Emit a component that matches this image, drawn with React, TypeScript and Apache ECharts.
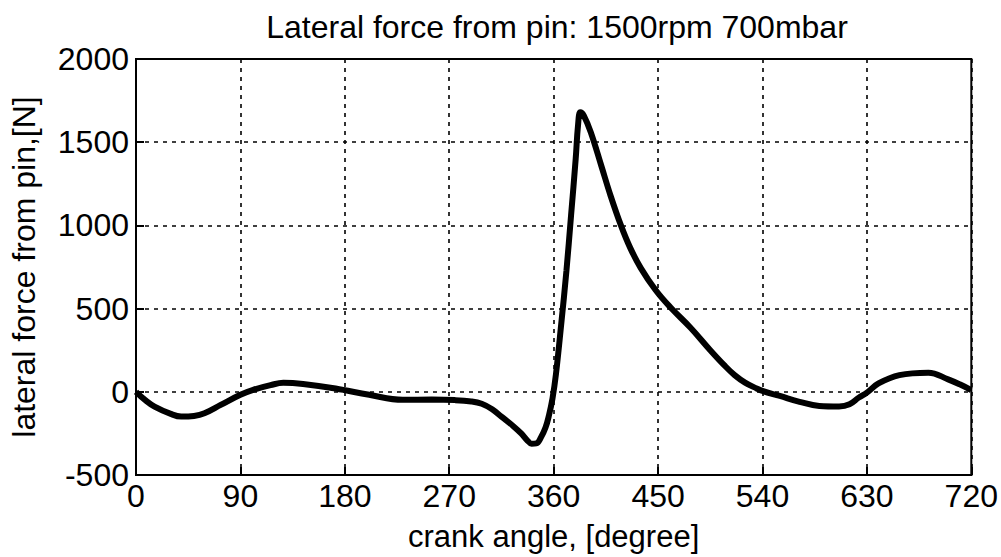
import React, { useEffect, useRef } from "react";
import * as echarts from "echarts";

const angles = [0, 8, 16, 30, 39, 50, 59, 73, 90, 101, 116, 127, 144, 172, 201, 230, 255, 275, 289, 298, 307, 315, 325, 332, 337, 341, 345, 349, 353, 356, 359, 362, 366.5, 371, 375, 379, 381, 383, 386, 392, 401, 409, 418, 426, 435, 448, 461, 478, 495, 507, 516, 525, 535, 540, 555, 572, 589, 606, 615, 623, 630, 640, 658, 683, 700, 710, 720];
const forces = [0, -50, -89, -133, -149, -145, -129, -79, -18, 12, 40, 54, 47, 20, -18, -48, -47, -50, -58, -72, -105, -149, -205, -250, -290, -312, -310, -275, -215, -140, -40, 107, 405, 726, 1060, 1400, 1600, 1680, 1660, 1560, 1360, 1180, 1000, 865, 745, 610, 505, 385, 250, 160, 100, 55, 20, 5, -25, -60, -85, -88, -75, -35, -5, 50, 100, 115, 75, 45, 10];
const xTicks = [0, 90, 180, 270, 360, 450, 540, 630, 720];
const yTicks = [-500, 0, 500, 1000, 1500, 2000];

const titleText = "Lateral force from pin: 1500rpm 700mbar";
const xLabel = "crank angle, [degree]";
const yLabel = "lateral force from pin,[N]";

export default function App() {
  const ref = useRef<HTMLDivElement>(null);
  useEffect(() => {
    document.body.style.margin = "0";
    const chart = echarts.init(ref.current!, null, { renderer: "svg" });
    const font = "Liberation Sans";
    const gridStyle = { color: "#000", type: [4, 5] as any, width: 1.6 };
    chart.setOption({
      animation: false,
      backgroundColor: "#fff",
      title: {
        text: titleText,
        left: 552,
        top: 6,
        textAlign: "center",
        textStyle: { fontFamily: font, fontSize: 32, fontWeight: "normal", color: "#000" },
      },
      grid: { left: 131.5, right: 28, top: 59, bottom: 78, show: true, borderColor: "#000", borderWidth: 2 },
      xAxis: {
        type: "value",
        min: xTicks[0],
        max: xTicks[xTicks.length - 1],
        interval: 90,
        name: xLabel,
        nameLocation: "middle",
        nameGap: 46,
        nameTextStyle: { fontFamily: font, fontSize: 31, color: "#000" },
        axisLine: { onZero: false, lineStyle: { color: "#000", width: 2 } },
        axisTick: { show: true, inside: true, length: 8, lineStyle: { color: "#000", width: 2 } },
        axisLabel: { fontFamily: font, fontSize: 32, color: "#000", margin: 5, formatter: (v: number) => String(v) },
        splitLine: { show: true, lineStyle: gridStyle },
      },
      yAxis: {
        type: "value",
        min: yTicks[0],
        max: yTicks[yTicks.length - 1],
        interval: 500,
        name: yLabel,
        nameLocation: "middle",
        nameGap: 96,
        nameTextStyle: { fontFamily: font, fontSize: 32, color: "#000" },
        axisLine: { lineStyle: { color: "#000", width: 2 } },
        axisTick: { show: true, inside: true, length: 8, lineStyle: { color: "#000", width: 2 } },
        axisLabel: { fontFamily: font, fontSize: 32, color: "#000", margin: 7, formatter: (v: number) => String(v) },
        splitLine: { show: true, lineStyle: gridStyle },
      },
      series: [
        {
          type: "line",
          data: angles.map((a, i) => [a, forces[i]]),
          smooth: 0.4,
          showSymbol: false,
          lineStyle: { color: "#000", width: 6 },
        },
      ],
    });
    return () => chart.dispose();
  }, []);
  return <div ref={ref} style={{ position: "fixed", left: 0, top: 0, width: 1001, height: 557 }} />;
}
